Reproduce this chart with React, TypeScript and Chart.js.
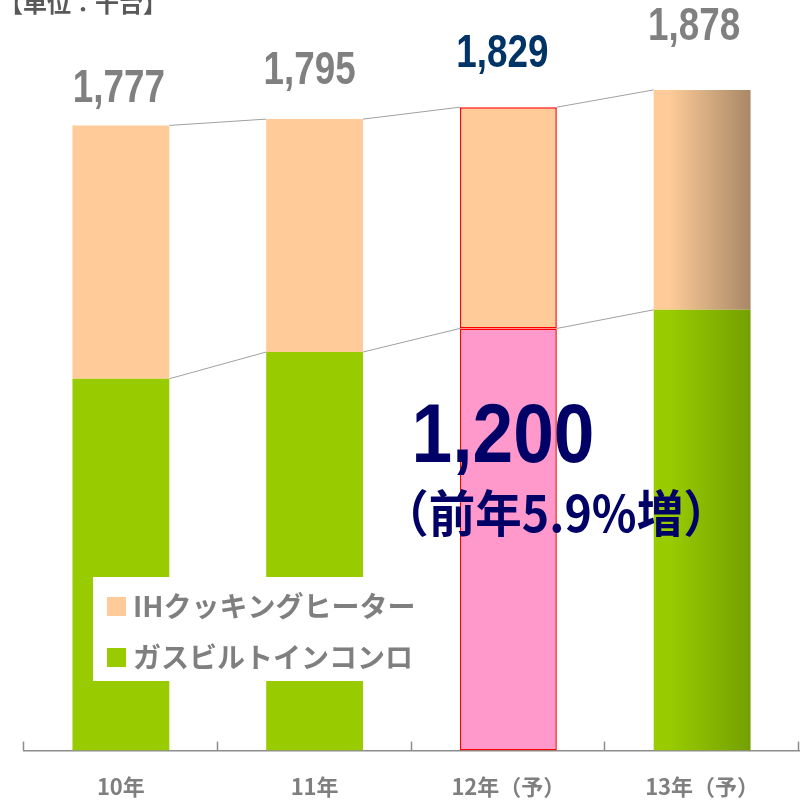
import React, { useEffect, useRef } from 'react';
import { Chart, registerables } from 'chart.js';

Chart.register(...registerables);

const categories = ['10年', '11年', '12年（予）', '13年（予）'];
const gasBuiltIn = [1057, 1133, 1200, 1253];
const ihHeater = [720, 662, 629, 625];
const totalLabels = ['1,777', '1,795', '1,829', '1,878'];
const seriesNames = ['IHクッキングヒーター', 'ガスビルトインコンロ'];
const unitLabel = '【単位：千台】';
const highlightValue = '1,200';
const highlightNote = '（前年5.9%増）';

// layout/style constants (not data)
const labelOffsetY = [-23, -35, -40, -50];
const labelOffsetX = [-2, -5, -6, -8];
const PEACH = '#FFCC99';
const GREEN = '#99CC00';
const PINK = '#FF99CC';
const GREY = '#7f7f7f';
const NAVY = '#000066';
const CJK = "'Noto Sans CJK JP', 'Noto Sans', sans-serif";
const LAT = "'Liberation Sans', Arial, sans-serif";

function barGradient(chart: any, c1: string, c2: string, fallback: string) {
  const xs = chart.scales && chart.scales.x;
  if (!xs || !chart.chartArea) return fallback;
  const cx = xs.getPixelForValue(3);
  const half = (xs.width / categories.length) * 0.5 / 2;
  const g = chart.ctx.createLinearGradient(cx - half, 0, cx + half, 0);
  g.addColorStop(0, c1);
  g.addColorStop(0.15, c1);
  g.addColorStop(1, c2);
  return g;
}

function drawText(ctx: CanvasRenderingContext2D, text: string, x: number, y: number, font: string, color: string, scaleX = 1, align: CanvasTextAlign = 'center', baseline: CanvasTextBaseline = 'alphabetic') {
  ctx.save();
  ctx.translate(x, y);
  ctx.scale(scaleX, 1);
  ctx.font = font;
  ctx.fillStyle = color;
  ctx.textAlign = align;
  ctx.textBaseline = baseline;
  ctx.fillText(text, 0, 0);
  ctx.restore();
}

const overlayPlugin = {
  id: 'overlay',
  beforeDatasetsDraw(chart: any) {
    const ctx = chart.ctx as CanvasRenderingContext2D;
    ctx.save();
    ctx.strokeStyle = '#a0a0a0';
    ctx.lineWidth = 1;
    for (let d = 0; d < 2; d++) {
      const els = chart.getDatasetMeta(d).data;
      for (let i = 0; i < els.length - 1; i++) {
        const a = els[i], b = els[i + 1];
        ctx.beginPath();
        ctx.moveTo(a.x + a.width / 2, a.y);
        ctx.lineTo(b.x - b.width / 2, b.y);
        ctx.stroke();
      }
    }
    ctx.restore();
  },
  afterDatasetsDraw(chart: any) {
    const ctx = chart.ctx as CanvasRenderingContext2D;
    const area = chart.chartArea;
    // tick marks (inside)
    ctx.save();
    ctx.strokeStyle = '#8c8c8c';
    ctx.lineWidth = 1.5;
    const step = (area.right - area.left) / categories.length;
    for (let i = 0; i <= categories.length; i++) {
      const x = Math.round(area.left + i * step) - 0.5;
      ctx.beginPath();
      ctx.moveTo(x, area.bottom - 9);
      ctx.lineTo(x, area.bottom);
      ctx.stroke();
    }
    ctx.restore();

    // total labels
    const top = chart.getDatasetMeta(1).data;
    top.forEach((el: any, i: number) => {
      drawText(ctx, totalLabels[i], el.x + labelOffsetX[i], el.y + labelOffsetY[i], `bold 46px ${LAT}`, i === 2 ? '#003366' : '#808080', 0.8);
    });

    // legend box
    ctx.save();
    ctx.fillStyle = '#ffffff';
    ctx.fillRect(93, 577, 327, 104);
    ctx.fillStyle = PEACH;
    ctx.fillRect(107, 597, 19, 19);
    ctx.fillStyle = GREEN;
    ctx.fillRect(107, 648, 19, 19);
    ctx.restore();
    drawText(ctx, seriesNames[0], 133, 606, `bold 28px ${CJK}`, GREY, 1, 'left', 'middle');
    drawText(ctx, seriesNames[1], 133, 657, `bold 28px ${CJK}`, GREY, 1, 'left', 'middle');

    // highlight annotation
    drawText(ctx, highlightValue, 503, 462, `bold 84px ${LAT}`, NAVY, 0.87);
    drawText(ctx, highlightNote, 556, 513, `bold 50px ${CJK}`, NAVY, 0.93, 'center', 'middle');

    // unit
    drawText(ctx, unitLabel, -1, 12, `bold 24px ${CJK}`, '#595959', 1, 'left', 'alphabetic');
  },
};

export default function App() {
  const ref = useRef<HTMLCanvasElement>(null);
  useEffect(() => {
    if (!ref.current) return;
    const chart = new Chart(ref.current, {
      type: 'bar',
      data: {
        labels: categories,
        datasets: [
          {
            label: seriesNames[1],
            data: gasBuiltIn,
            backgroundColor: (c: any) => {
              if (c.dataIndex === 3) return barGradient(c.chart, GREEN, '#74A000', GREEN);
              return c.dataIndex === 2 ? PINK : GREEN;
            },
            borderColor: ['rgba(0,0,0,0)', 'rgba(0,0,0,0)', '#FF0000', 'rgba(0,0,0,0)'],
            borderWidth: [0, 0, 1.5, 0],
            borderSkipped: false,
            categoryPercentage: 1,
            barPercentage: 0.5,
          },
          {
            label: seriesNames[0],
            data: ihHeater,
            backgroundColor: (c: any) => {
              if (c.dataIndex === 3) return barGradient(c.chart, PEACH, '#A88866', PEACH);
              return PEACH;
            },
            borderColor: ['rgba(0,0,0,0)', 'rgba(0,0,0,0)', '#FF0000', 'rgba(0,0,0,0)'],
            borderWidth: [0, 0, 1.5, 0],
            borderSkipped: false,
            categoryPercentage: 1,
            barPercentage: 0.5,
          },
        ],
      },
      options: {
        responsive: false,
        animation: false,
        layout: { padding: { top: 47, left: 24, right: 1, bottom: -22 } },
        plugins: { legend: { display: false }, tooltip: { enabled: false } },
        scales: {
          x: {
            stacked: true,
            grid: { display: false, drawTicks: false },
            border: { display: true, color: '#8c8c8c', width: 1.5 },
            ticks: { color: GREY, font: { family: CJK, size: 22, weight: 'bold' }, padding: 23 },
          },
          y: { stacked: true, display: false, min: 0, max: 2000 },
        },
      },
      plugins: [overlayPlugin],
    });
    return () => chart.destroy();
  }, []);
  return (
    <div style={{ position: 'fixed', left: 0, top: 0, width: 800, height: 801, background: '#fff' }}>
      <canvas ref={ref} width={800} height={801} style={{ display: 'block' }} />
    </div>
  );
}
